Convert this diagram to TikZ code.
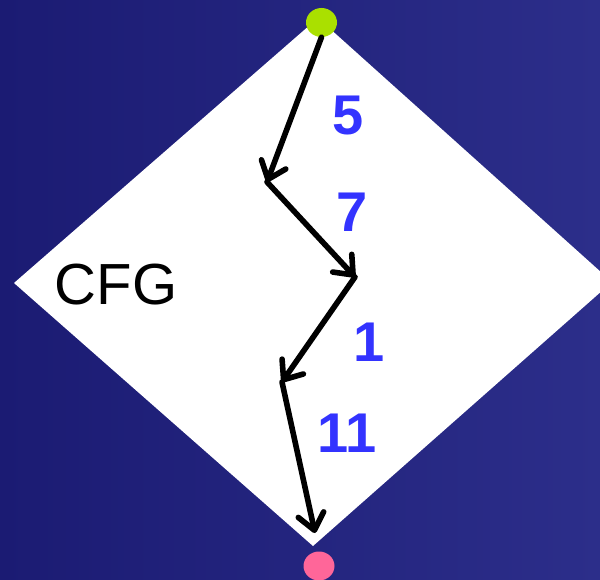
\documentclass[tikz,border=0pt]{standalone}
\usepackage{fontspec}
\setmainfont{Liberation Sans}
\usetikzlibrary{arrows.meta,shapes.geometric}
\definecolor{bgleft}{RGB}{27,27,115}
\definecolor{bgright}{RGB}{44,46,138}
\definecolor{limedot}{RGB}{170,224,0}
\definecolor{pinkdot}{RGB}{255,102,153}
\definecolor{numblue}{RGB}{51,51,255}
\tikzset{
  dot/.style={ellipse, draw=none, minimum width=31pt, minimum height=29pt, inner sep=0pt},
  flow/.style={line width=5.6pt, line cap=round, line join=round, black,
    -{Straight Barb[length=16pt, width=26pt, line cap=round, line join=round]}},
  num/.style={text=numblue, font=\fontsize{56}{56}\selectfont\bfseries, inner sep=0pt},
  lbl/.style={text=black, font=\fontsize{58}{58}\selectfont, inner sep=0pt}
}
\begin{document}
\begin{tikzpicture}[x=1pt,y=-1pt]
\useasboundingbox (0,0) rectangle (600,580);
\shade[left color=bgleft,right color=bgright] (0,0) rectangle (600,580);
\fill[white] (318,18) -- (612,282) -- (313,546) -- (14,283) -- cycle;
\node[lbl] (cfg) at (116,285) {CFG};
\node[num] (n5) at (348,116) {5};
\node[num] (n7) at (352,212) {7};
\node[num] (n1) at (369,342) {1};
\node[num] (n11) at (347,433) {11};
\coordinate (b1) at (267,182);
\coordinate (b2) at (355,277);
\coordinate (b3) at (282,382);
\coordinate (b4) at (315,533);
\node[dot, fill=pinkdot] (stop) at (319,566) {};
\node[dot, fill=limedot] (start) at (321.5,22.5) {};
\draw[flow] (start.south) -- (b1);
\draw[flow] (b1) -- (b2);
\draw[flow] (b2) -- (b3);
\draw[flow] (b3) -- (b4);
\end{tikzpicture}
\end{document}
